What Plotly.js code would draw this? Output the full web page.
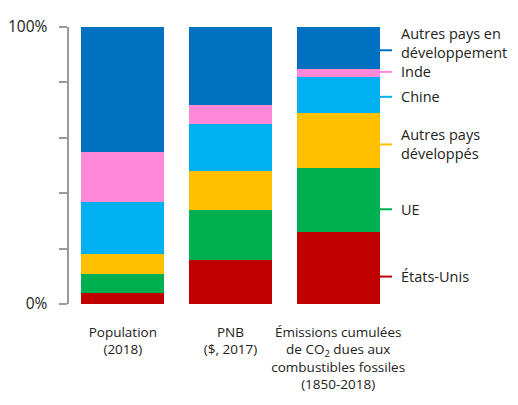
<!DOCTYPE html>
<html>
<head>
<meta charset="utf-8">
<script src="https://cdn.plot.ly/plotly-3.0.1.min.js"></script>
<style>html,body{margin:0;padding:0;background:#fff;}#chart{width:518px;height:405px;}</style>
</head>
<body>
<div id="chart"></div>
<script>
// Categories (bars)
var categories = ["Population<br>(2018)", "PNB<br>($, 2017)", "Émissions cumulées<br>de CO<sub>2</sub> dues aux<br>combustibles fossiles<br>(1850-2018)"];

// Series (bottom to top), percent shares
var seriesNames = ["États-Unis", "UE", "Autres pays<br>développés", "Chine", "Inde", "Autres pays en<br>développement"];
var etatsUnis   = [4, 16, 26];
var ue          = [7, 18, 23];
var autresDev   = [7, 14, 20];
var chine       = [19, 17, 13];
var inde        = [18, 7, 3];
var autresEnDev = [45, 28, 15];
var seriesValues = [etatsUnis, ue, autresDev, chine, inde, autresEnDev];
var seriesColors = ["#C00000", "#00B050", "#FFC000", "#00B0F0", "#FF89D8", "#0070C0"];

// Right-hand label positions (y, percent) for the marker lines and for the text
var labelTickY = [9.9, 34.2, 57.6, 74.8, 83.8, 91.6];
var labelTextY = [9.9, 34.2, 57.6, 74.8, 83.8, 94.2];

// Y-axis ticks
var yTickVals = [0, 20, 40, 60, 80, 100];
var yTickText = ["0%", "", "", "", "", "100%"];

var xIdx = categories.map(function(_, i){ return i; });
var traces = seriesNames.map(function(name, s){
  return {
    type: "bar",
    name: name,
    x: xIdx,
    y: seriesValues[s],
    marker: {color: seriesColors[s], line: {width: 0}},
    hoverinfo: "skip"
  };
});

var barGap = 0.23;
var lastX = xIdx[xIdx.length - 1];
var barHalf = (1 - barGap) / 2;

var shapes = [];
var annotations = [];
seriesNames.forEach(function(name, s){
  shapes.push({
    type: "line", xref: "x", yref: "y",
    x0: lastX + barHalf, x1: lastX + 0.5,
    y0: labelTickY[s], y1: labelTickY[s],
    line: {color: seriesColors[s], width: 2}
  });
  annotations.push({
    xref: "paper", yref: "y", x: 1, y: labelTextY[s],
    xanchor: "left", yanchor: "middle", xshift: 7,
    text: name, showarrow: false, align: "left",
    font: {family: "Open Sans, sans-serif", size: 14.5, color: "#222"}
  });
});

var layout = {
  width: 518, height: 405,
  margin: {l: 68.5, r: 125.5, t: 27, b: 101, pad: 0},
  barmode: "stack",
  bargap: barGap,
  showlegend: false,
  paper_bgcolor: "#fff",
  plot_bgcolor: "#fff",
  font: {family: "Open Sans, sans-serif", color: "#222"},
  xaxis: {
    range: [-0.5, lastX + 0.5],
    tickvals: xIdx, ticktext: categories,
    showgrid: false, zeroline: false, showline: false, ticks: "",
    tickfont: {size: 13.5, color: "#222"},
    ticklabelstandoff: 18,
    fixedrange: true
  },
  yaxis: {
    range: [0, 100],
    tickvals: yTickVals, ticktext: yTickText,
    showgrid: false, zeroline: false,
    showline: true, linecolor: "#9A9A9A", linewidth: 2.5,
    ticks: "outside", ticklen: 8, tickwidth: 2, tickcolor: "#9A9A9A",
    tickfont: {size: 15.5, color: "#222"},
    ticklabelstandoff: 8,
    fixedrange: true
  },
  shapes: shapes,
  annotations: annotations
};

Plotly.newPlot("chart", traces, layout, {displayModeBar: false, staticPlot: true});
</script>
</body>
</html>
